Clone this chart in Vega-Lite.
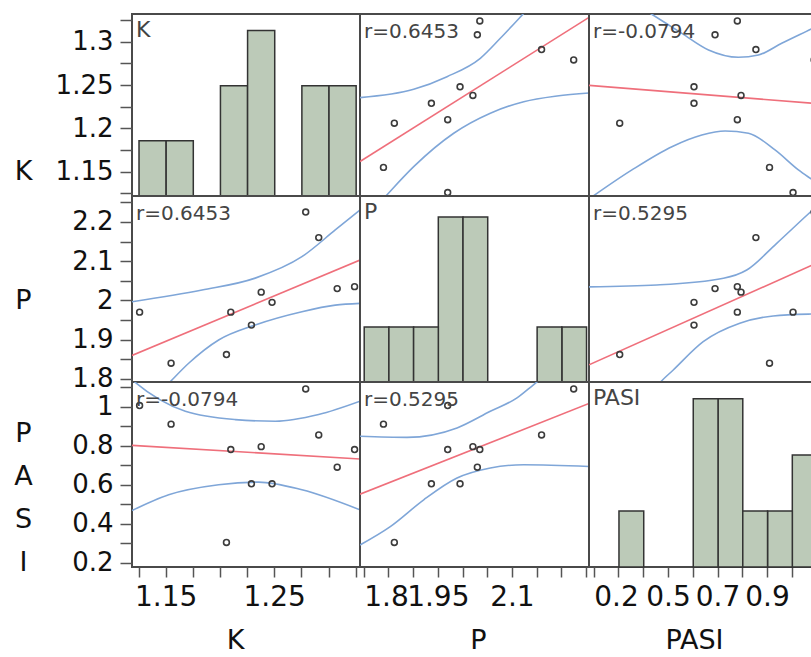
{
  "$schema": "https://vega.github.io/schema/vega-lite/v6.json",
  "background": "white",
  "padding": {"left": 12, "top": 13, "right": 0, "bottom": 0},
  "columns": 3,
  "spacing": 0,
  "align": "each",
  "bounds": "flush",
  "datasets": {
    "obs": [
      {"K": 1.126, "P": 1.970, "PASI": 1.005},
      {"K": 1.155, "P": 1.840, "PASI": 0.91},
      {"K": 1.206, "P": 1.862, "PASI": 0.305},
      {"K": 1.210, "P": 1.970, "PASI": 0.78},
      {"K": 1.229, "P": 1.937, "PASI": 0.605},
      {"K": 1.238, "P": 2.021, "PASI": 0.795},
      {"K": 1.248, "P": 1.995, "PASI": 0.605},
      {"K": 1.279, "P": 2.225, "PASI": 1.09},
      {"K": 1.291, "P": 2.160, "PASI": 0.855},
      {"K": 1.308, "P": 2.030, "PASI": 0.69},
      {"K": 1.324, "P": 2.035, "PASI": 0.78}
    ],
    "f12": [
      {"c": "fit", "P": 1.7925, "K": 1.1618}, {"c": "fit", "P": 2.256, "K": 1.3281},
      {"c": "up", "P": 1.7925, "K": 1.2355}, {"c": "up", "P": 1.9012, "K": 1.2451}, {"c": "up", "P": 1.9686, "K": 1.2597}, {"c": "up", "P": 2.036, "K": 1.2809}, {"c": "up", "P": 2.0765, "K": 1.304}, {"c": "up", "P": 2.1239, "K": 1.3328}, {"c": "up", "P": 2.171, "K": 1.362},
      {"c": "lo", "P": 1.8208, "K": 1.107}, {"c": "lo", "P": 1.8437, "K": 1.1213}, {"c": "lo", "P": 1.9012, "K": 1.1559}, {"c": "lo", "P": 1.9822, "K": 1.1944}, {"c": "lo", "P": 2.0563, "K": 1.2175}, {"c": "lo", "P": 2.1239, "K": 1.2308}, {"c": "lo", "P": 2.1913, "K": 1.2374}, {"c": "lo", "P": 2.256, "K": 1.2409}
    ],
    "f13": [
      {"c": "fit", "PASI": 0.181, "K": 1.2496}, {"c": "fit", "PASI": 1.13, "K": 1.228},
      {"c": "up", "PASI": 0.314, "K": 1.3532}, {"c": "up", "PASI": 0.4282, "K": 1.3328}, {"c": "up", "PASI": 0.556, "K": 1.3097}, {"c": "up", "PASI": 0.6637, "K": 1.2905}, {"c": "up", "PASI": 0.7846, "K": 1.2821}, {"c": "up", "PASI": 0.8653, "K": 1.2847}, {"c": "up", "PASI": 0.9592, "K": 1.2982}, {"c": "up", "PASI": 1.0842, "K": 1.3155}, {"c": "up", "PASI": 1.13, "K": 1.3219},
      {"c": "lo", "PASI": 0.181, "K": 1.1186}, {"c": "lo", "PASI": 0.3544, "K": 1.1521}, {"c": "lo", "PASI": 0.5157, "K": 1.1789}, {"c": "lo", "PASI": 0.6366, "K": 1.1924}, {"c": "lo", "PASI": 0.7306, "K": 1.197}, {"c": "lo", "PASI": 0.825, "K": 1.1944}, {"c": "lo", "PASI": 0.9322, "K": 1.1751}, {"c": "lo", "PASI": 1.0266, "K": 1.1521}, {"c": "lo", "PASI": 1.0842, "K": 1.1405}, {"c": "lo", "PASI": 1.13, "K": 1.1313}
    ],
    "f21": [
      {"c": "fit", "K": 1.119, "P": 1.8598}, {"c": "fit", "K": 1.329, "P": 2.1027},
      {"c": "up", "K": 1.119, "P": 1.9966}, {"c": "up", "K": 1.1835, "P": 2.0264}, {"c": "up", "K": 1.2325, "P": 2.0567}, {"c": "up", "K": 1.2755, "P": 2.1113}, {"c": "up", "K": 1.3062, "P": 2.1794}, {"c": "up", "K": 1.329, "P": 2.2304},
      {"c": "lo", "K": 1.1374, "P": 1.746}, {"c": "lo", "K": 1.1528, "P": 1.7887}, {"c": "lo", "K": 1.1712, "P": 1.8397}, {"c": "lo", "K": 1.1988, "P": 1.899}, {"c": "lo", "K": 1.2325, "P": 1.9373}, {"c": "lo", "K": 1.2755, "P": 1.9711}, {"c": "lo", "K": 1.3062, "P": 1.9878}, {"c": "lo", "K": 1.329, "P": 1.9923}
    ],
    "f23": [
      {"c": "fit", "PASI": 0.181, "P": 1.8358}, {"c": "fit", "PASI": 1.13, "P": 2.1031},
      {"c": "up", "PASI": 0.181, "P": 2.0345}, {"c": "up", "PASI": 0.4552, "P": 2.0392}, {"c": "up", "PASI": 0.7241, "P": 2.0563}, {"c": "up", "PASI": 0.8181, "P": 2.0774}, {"c": "up", "PASI": 0.939, "P": 2.1455}, {"c": "up", "PASI": 1.0842, "P": 2.2303}, {"c": "up", "PASI": 1.13, "P": 2.2558},
      {"c": "lo", "PASI": 0.435, "P": 1.766}, {"c": "lo", "PASI": 0.4673, "P": 1.7902}, {"c": "lo", "PASI": 0.5212, "P": 1.8226}, {"c": "lo", "PASI": 0.6422, "P": 1.8947}, {"c": "lo", "PASI": 0.7899, "P": 1.9416}, {"c": "lo", "PASI": 0.9245, "P": 1.9602}, {"c": "lo", "PASI": 1.0842, "P": 1.9653}, {"c": "lo", "PASI": 1.13, "P": 1.966}
    ],
    "f31": [
      {"c": "fit", "K": 1.119, "PASI": 0.8015}, {"c": "fit", "K": 1.329, "PASI": 0.7318},
      {"c": "up", "K": 1.1144, "PASI": 1.16}, {"c": "up", "K": 1.1206, "PASI": 1.1297}, {"c": "up", "K": 1.1681, "PASI": 0.9759}, {"c": "up", "K": 1.2141, "PASI": 0.9333}, {"c": "up", "K": 1.251, "PASI": 0.9246}, {"c": "up", "K": 1.2909, "PASI": 0.959}, {"c": "up", "K": 1.329, "PASI": 1.0272},
      {"c": "lo", "K": 1.119, "PASI": 0.468}, {"c": "lo", "K": 1.1528, "PASI": 0.5487}, {"c": "lo", "K": 1.1988, "PASI": 0.6}, {"c": "lo", "K": 1.2357, "PASI": 0.6138}, {"c": "lo", "K": 1.2755, "PASI": 0.5744}, {"c": "lo", "K": 1.329, "PASI": 0.4718}
    ],
    "f32": [
      {"c": "fit", "P": 1.7925, "PASI": 0.5519}, {"c": "fit", "P": 2.256, "PASI": 1.0157},
      {"c": "up", "P": 1.7925, "PASI": 0.848}, {"c": "up", "P": 1.8876, "PASI": 0.8426}, {"c": "up", "P": 1.9889, "PASI": 0.8908}, {"c": "up", "P": 2.0563, "PASI": 0.9759}, {"c": "up", "P": 2.1103, "PASI": 1.0446}, {"c": "up", "P": 2.1441, "PASI": 1.1128}, {"c": "up", "P": 2.1772, "PASI": 1.1795},
      {"c": "lo", "P": 1.7925, "PASI": 0.2923}, {"c": "lo", "P": 1.8538, "PASI": 0.3862}, {"c": "lo", "P": 1.9215, "PASI": 0.5231}, {"c": "lo", "P": 1.9889, "PASI": 0.6344}, {"c": "lo", "P": 2.0563, "PASI": 0.6856}, {"c": "lo", "P": 2.1239, "PASI": 0.7026}, {"c": "lo", "P": 2.256, "PASI": 0.6935}
    ]
  },
  "data": {"name": "obs"},
  "concat": [
    {
      "width": 228, "height": 182,
      "title": {"text": "K", "fontSize": 22},
      "layer": [
        {
          "mark": {"type": "bar", "fill": "#bccab8", "stroke": "#333333", "strokeWidth": 1.5},
          "encoding": {
            "x": {"field": "K", "type": "quantitative", "bin": {"extent": [1.125, 1.325], "step": 0.025, "nice": false}, "scale": {"domain": [1.119, 1.329], "nice": false, "zero": false}, "axis": null},
            "y": {"aggregate": "count", "type": "quantitative", "scale": {"domain": [0, 3.3], "nice": false}, "axis": null}
          }
        },
        {
          "mark": {"type": "point", "opacity": 0},
          "encoding": {
            "x": {"field": "K", "type": "quantitative", "scale": {"domain": [1.119, 1.329], "nice": false, "zero": false}, "axis": null},
            "y": {"field": "K", "type": "quantitative", "scale": {"domain": [1.122, 1.332], "nice": false, "zero": false},
                  "axis": {"values": [1.125, 1.15, 1.175, 1.2, 1.225, 1.25, 1.275, 1.3, 1.325], "labelExpr": "indexof([1.15, 1.2, 1.25, 1.3], datum.value) >= 0 ? format(datum.value, '~g') : ''", "labelFontSize": {"condition": {"test": "indexof([1.15, 1.2, 1.25, 1.3], datum.value) < 0", "value": 0}, "value": 26}, "title": "K", "titleY": 157}}
          }
        }
      ],
      "resolve": {"scale": {"x": "independent", "y": "independent"}}
    },
    {
      "width": 229, "height": 182,
      "title": "r=0.6453",
      "encoding": {
        "x": {"field": "P", "type": "quantitative", "scale": {"domain": [1.7925, 2.256], "nice": false, "zero": false}, "axis": null},
        "y": {"field": "K", "type": "quantitative", "scale": {"domain": [1.122, 1.332], "nice": false, "zero": false}, "axis": null}
      },
      "layer": [
        {"data": {"name": "f12"}, "transform": [{"filter": "datum.c != 'fit'"}], "mark": {"type": "line", "color": "#7fa6d8", "strokeWidth": 1.6, "clip": true, "interpolate": "monotone"}, "encoding": {"detail": {"field": "c"}}},
        {"data": {"name": "f12"}, "transform": [{"filter": "datum.c == 'fit'"}], "mark": {"type": "line", "color": "#ef6f7b", "strokeWidth": 1.6, "clip": true}, "encoding": {}},
        {"mark": {"type": "point", "shape": "circle", "size": 34, "filled": false, "color": "#3c3c3c", "strokeWidth": 1.6, "opacity": 1}, "encoding": {}}
      ]
    },
    {
      "width": 235, "height": 182,
      "title": "r=-0.0794",
      "encoding": {
        "x": {"field": "PASI", "type": "quantitative", "scale": {"domain": [0.181, 1.13], "nice": false, "zero": false}, "axis": null},
        "y": {"field": "K", "type": "quantitative", "scale": {"domain": [1.122, 1.332], "nice": false, "zero": false}, "axis": null}
      },
      "layer": [
        {"data": {"name": "f13"}, "transform": [{"filter": "datum.c != 'fit'"}], "mark": {"type": "line", "color": "#7fa6d8", "strokeWidth": 1.6, "clip": true, "interpolate": "monotone"}, "encoding": {"detail": {"field": "c"}}},
        {"data": {"name": "f13"}, "transform": [{"filter": "datum.c == 'fit'"}], "mark": {"type": "line", "color": "#ef6f7b", "strokeWidth": 1.6, "clip": true}, "encoding": {}},
        {"mark": {"type": "point", "shape": "circle", "size": 34, "filled": false, "color": "#3c3c3c", "strokeWidth": 1.6, "opacity": 1}, "encoding": {}}
      ]
    },
    {
      "width": 228, "height": 186,
      "title": "r=0.6453",
      "encoding": {
        "x": {"field": "K", "type": "quantitative", "scale": {"domain": [1.119, 1.329], "nice": false, "zero": false}, "axis": null},
        "y": {"field": "P", "type": "quantitative", "scale": {"domain": [1.792, 2.266], "nice": false, "zero": false},
              "axis": {"values": [1.8, 1.85, 1.9, 1.95, 2, 2.05, 2.1, 2.15, 2.2, 2.25], "labelExpr": "indexof([1.8, 1.9, 2, 2.1, 2.2], datum.value) >= 0 ? format(datum.value, '~g') : ''", "labelFontSize": {"condition": {"test": "indexof([1.8, 1.9, 2, 2.1, 2.2], datum.value) < 0", "value": 0}, "value": 26}, "title": "P", "titleY": 104}}
      },
      "layer": [
        {"data": {"name": "f21"}, "transform": [{"filter": "datum.c != 'fit'"}], "mark": {"type": "line", "color": "#7fa6d8", "strokeWidth": 1.6, "clip": true, "interpolate": "monotone"}, "encoding": {"detail": {"field": "c"}}},
        {"data": {"name": "f21"}, "transform": [{"filter": "datum.c == 'fit'"}], "mark": {"type": "line", "color": "#ef6f7b", "strokeWidth": 1.6, "clip": true}, "encoding": {}},
        {"mark": {"type": "point", "shape": "circle", "size": 34, "filled": false, "color": "#3c3c3c", "strokeWidth": 1.6, "opacity": 1}, "encoding": {}}
      ]
    },
    {
      "width": 229, "height": 186,
      "title": {"text": "P", "fontSize": 22},
      "mark": {"type": "bar", "fill": "#bccab8", "stroke": "#333333", "strokeWidth": 1.5},
      "encoding": {
        "x": {"field": "P", "type": "quantitative", "bin": {"extent": [1.8, 2.25], "step": 0.05, "nice": false}, "scale": {"domain": [1.7925, 2.256], "nice": false, "zero": false}, "axis": null},
        "y": {"aggregate": "count", "type": "quantitative", "scale": {"domain": [0, 3.38], "nice": false}, "axis": null}
      }
    },
    {
      "width": 235, "height": 186,
      "title": "r=0.5295",
      "encoding": {
        "x": {"field": "PASI", "type": "quantitative", "scale": {"domain": [0.181, 1.13], "nice": false, "zero": false}, "axis": null},
        "y": {"field": "P", "type": "quantitative", "scale": {"domain": [1.792, 2.266], "nice": false, "zero": false}, "axis": null}
      },
      "layer": [
        {"data": {"name": "f23"}, "transform": [{"filter": "datum.c != 'fit'"}], "mark": {"type": "line", "color": "#7fa6d8", "strokeWidth": 1.6, "clip": true, "interpolate": "monotone"}, "encoding": {"detail": {"field": "c"}}},
        {"data": {"name": "f23"}, "transform": [{"filter": "datum.c == 'fit'"}], "mark": {"type": "line", "color": "#ef6f7b", "strokeWidth": 1.6, "clip": true}, "encoding": {}},
        {"mark": {"type": "point", "shape": "circle", "size": 34, "filled": false, "color": "#3c3c3c", "strokeWidth": 1.6, "opacity": 1}, "encoding": {}}
      ]
    },
    {
      "width": 228, "height": 185,
      "title": "r=-0.0794",
      "encoding": {
        "x": {"field": "K", "type": "quantitative", "scale": {"domain": [1.119, 1.329], "nice": false, "zero": false},
              "axis": {"values": [1.125, 1.15, 1.175, 1.2, 1.225, 1.25, 1.275, 1.3, 1.325], "labelExpr": "indexof([1.15, 1.25], datum.value) >= 0 ? format(datum.value, '~g') : ''", "title": "K", "titleX": 103}},
        "y": {"field": "PASI", "type": "quantitative", "scale": {"domain": [0.1795, 1.1256], "nice": false, "zero": false},
              "axis": {"values": [0.2, 0.3, 0.4, 0.5, 0.6, 0.7, 0.8, 0.9, 1, 1.1], "labelExpr": "indexof([0.2, 0.4, 0.6, 0.8, 1], datum.value) >= 0 ? format(datum.value, '~g') : ''", "labelFontSize": {"condition": {"test": "indexof([0.2, 0.4, 0.6, 0.8, 1], datum.value) < 0", "value": 0}, "value": 26}, "title": ["P", "A", "S", "I"], "titleY": 51, "titleLineHeight": 43}}
      },
      "layer": [
        {"data": {"name": "f31"}, "transform": [{"filter": "datum.c != 'fit'"}], "mark": {"type": "line", "color": "#7fa6d8", "strokeWidth": 1.6, "clip": true, "interpolate": "monotone"}, "encoding": {"detail": {"field": "c"}}},
        {"data": {"name": "f31"}, "transform": [{"filter": "datum.c == 'fit'"}], "mark": {"type": "line", "color": "#ef6f7b", "strokeWidth": 1.6, "clip": true}, "encoding": {}},
        {"mark": {"type": "point", "shape": "circle", "size": 34, "filled": false, "color": "#3c3c3c", "strokeWidth": 1.6, "opacity": 1}, "encoding": {}}
      ]
    },
    {
      "width": 229, "height": 185,
      "title": "r=0.5295",
      "encoding": {
        "x": {"field": "P", "type": "quantitative", "scale": {"domain": [1.7925, 2.256], "nice": false, "zero": false},
              "axis": {"values": [1.8, 1.85, 1.9, 1.95, 2, 2.05, 2.1, 2.15, 2.2, 2.25], "labelExpr": "indexof([1.8, 1.95, 2.1], datum.value) >= 0 ? format(datum.value, '~g') : ''", "labelAlign": {"condition": {"test": "datum.value == 1.8", "value": "left"}, "value": "center"}, "title": "P", "titleX": 118}},
        "y": {"field": "PASI", "type": "quantitative", "scale": {"domain": [0.1795, 1.1256], "nice": false, "zero": false}, "axis": null}
      },
      "layer": [
        {"data": {"name": "f32"}, "transform": [{"filter": "datum.c != 'fit'"}], "mark": {"type": "line", "color": "#7fa6d8", "strokeWidth": 1.6, "clip": true, "interpolate": "monotone"}, "encoding": {"detail": {"field": "c"}}},
        {"data": {"name": "f32"}, "transform": [{"filter": "datum.c == 'fit'"}], "mark": {"type": "line", "color": "#ef6f7b", "strokeWidth": 1.6, "clip": true}, "encoding": {}},
        {"mark": {"type": "point", "shape": "circle", "size": 34, "filled": false, "color": "#3c3c3c", "strokeWidth": 1.6, "opacity": 1}, "encoding": {}}
      ]
    },
    {
      "width": 235, "height": 185,
      "title": {"text": "PASI", "fontSize": 22},
      "mark": {"type": "bar", "fill": "#bccab8", "stroke": "#333333", "strokeWidth": 1.5},
      "encoding": {
        "x": {"field": "PASI", "type": "quantitative", "bin": {"extent": [0.3, 1.1], "step": 0.1, "nice": false}, "scale": {"domain": [0.181, 1.13], "nice": false, "zero": false},
              "axis": {"values": [0.2, 0.3, 0.4, 0.5, 0.6, 0.7, 0.8, 0.9, 1, 1.1], "labelExpr": "indexof([0.2, 0.5, 0.7, 0.9], datum.value) >= 0 ? format(datum.value, '~g') : ''", "labelAlign": {"condition": {"test": "datum.value == 0.2", "value": "left"}, "value": "center"}, "title": "PASI", "titleX": 105}},
        "y": {"aggregate": "count", "type": "quantitative", "scale": {"domain": [0, 3.3], "nice": false}, "axis": null}
      }
    }
  ],
  "config": {
    "view": {"stroke": "#4a4a4a", "strokeWidth": 2},
    "font": "DejaVu Sans",
    "bar": {"binSpacing": 0},
    "title": {"anchor": "start", "frame": "group", "font": "DejaVu Sans", "fontWeight": "normal", "fontSize": 20, "color": "#444444", "offset": -18, "baseline": "top", "dx": 4, "dy": 10},
    "axis": {"domain": false, "grid": false, "labelFont": "DejaVu Sans", "labelColor": "#111111", "tickColor": "#555555", "tickWidth": 1.5, "labelOverlap": false, "labelFlush": false, "labelBound": false, "titleFont": "DejaVu Sans", "titleFontWeight": "normal", "titleColor": "#111111", "titleFontSize": 27, "titlePadding": 0},
    "axisLeft": {"labelFontSize": 26, "tickSize": 12, "labelPadding": 7, "titleAngle": 0, "titleX": -109, "titleAlign": "center", "titleBaseline": "middle"},
    "axisBottom": {"labelFontSize": 28, "tickSize": 10, "labelPadding": 6, "titleY": 73, "titleAlign": "center", "titleBaseline": "middle"}
  }
}
